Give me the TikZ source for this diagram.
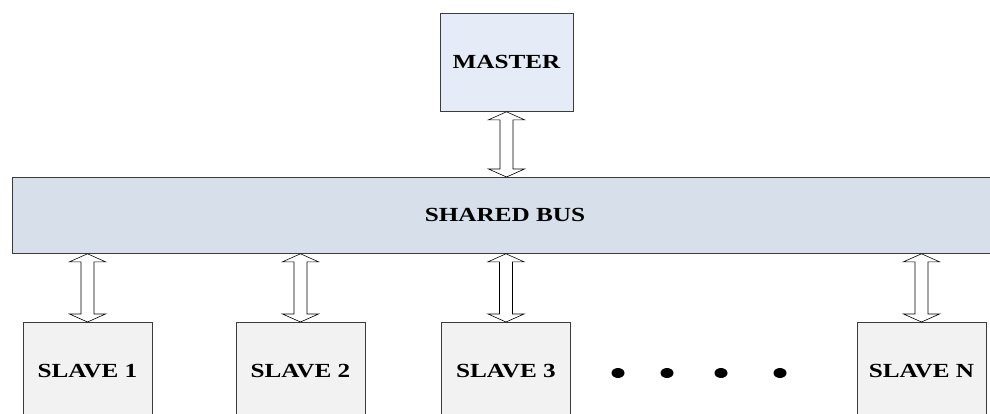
\documentclass[tikz,border=0pt]{standalone}
\usepackage{fontspec}
\setmainfont{Liberation Serif}
\usetikzlibrary{calc}
\definecolor{masterfill}{RGB}{230,236,247}
\definecolor{busfill}{RGB}{214,223,234}
\definecolor{slavefill}{RGB}{242,242,242}
\definecolor{edgecol}{RGB}{60,60,60}
% label text: bold serif, slightly widened
\newcommand{\boxlabel}[1]{\scalebox{1.26}[1]{\fontsize{20}{24}\selectfont\bfseries #1}}
% hollow double-headed block arrow between two anchors stacked vertically
\newcommand{\dblarrow}[2]{%
  \draw[arrowbody] let \p1=(#1), \p2=(#2) in
    (\x1,\y1) -- (\x1+18pt,\y1-8pt) -- (\x1+6.5pt,\y1-8pt) -- (\x1+6.5pt,\y2+8pt)
    -- (\x1+18pt,\y2+8pt) -- (\x1,\y2) -- (\x1-18pt,\y2+8pt) -- (\x1-6.5pt,\y2+8pt)
    -- (\x1-6.5pt,\y1-8pt) -- (\x1-18pt,\y1-8pt) -- cycle;}
\tikzset{
  unitbox/.style={draw=edgecol, line width=0.8pt, minimum width=130pt, minimum height=98pt,
    inner sep=0pt, anchor=north},
  masterbox/.style={unitbox, fill=masterfill, minimum width=133pt},
  slavebox/.style={unitbox, fill=slavefill, minimum width=129pt},
  busbox/.style={draw=edgecol, line width=0.8pt, fill=busfill, inner sep=0pt},
  arrowbody/.style={draw=black, line width=0.6pt, fill=white, line join=miter},
  dot/.style={fill=black, draw=none}
}
\begin{document}
\begin{tikzpicture}[x=1pt, y=-1pt]
  \useasboundingbox (0,0) rectangle (990,413);
  \clip (0,0) rectangle (990,413);
  \fill[white] (0,0) rectangle (990,413);

  % master
  \node[masterbox] (master) at (506.5,13) {\boxlabel{MASTER}};

  % shared bus, running past the right edge
  \node[busbox, minimum width=1000pt, minimum height=76pt, anchor=north west] (bus) at (12,177) {};
  \node (buslabel) at (505,215) {\boxlabel{SHARED BUS}};

  % slaves
  \node[slavebox] (s1) at (87.5,322) {\boxlabel{SLAVE 1}};
  \node[slavebox] (s2) at (300.5,322) {\boxlabel{SLAVE 2}};
  \node[slavebox] (s3) at (506,322) {\boxlabel{SLAVE 3}};
  \node[slavebox] (sn) at (921.5,322) {\boxlabel{SLAVE N}};

  % ellipsis dots
  \foreach \dx [count=\i] in {618,667,721,780}
    \fill[dot] (\dx,373) ellipse [x radius=6.5pt, y radius=5pt];

  % bus connections
  \coordinate (mtap) at (master.south |- bus.north);
  \dblarrow{master.south}{mtap}
  \foreach \s in {s1,s2,s3,sn}{
    \coordinate (tap-\s) at (\s.north |- bus.south);
    \dblarrow{tap-\s}{\s.north}
  }
\end{tikzpicture}
\end{document}
